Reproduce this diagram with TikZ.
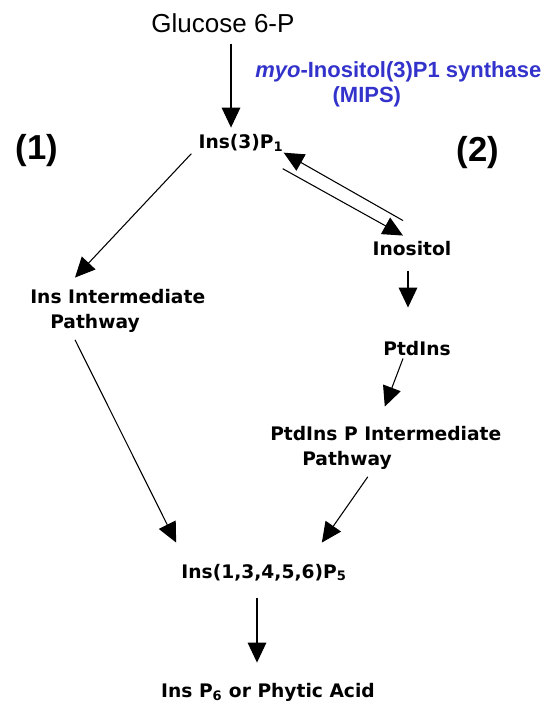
\documentclass[tikz,border=0pt]{standalone}
\usepackage{fontspec}
\setmainfont{Liberation Sans}
\newfontfamily\pathfont{DejaVu Sans}
\usetikzlibrary{arrows.meta}
\definecolor{mipsblue}{RGB}{51,51,204}

\begin{document}
\begin{tikzpicture}[
    x=0.75pt, y=-0.75pt,
    metab/.style={
        inner sep=0pt,
        anchor=base,
        font=\pathfont\bfseries\fontsize{14}{18.75}\selectfont
    },
    route/.style={metab, anchor=base west, align=left},
    pathno/.style={
        inner sep=0pt,
        anchor=base,
        font=\bfseries\fontsize{26}{30}\selectfont
    },
    arrow/.style={-{Triangle[length=15pt,width=14pt]}, line width=0.8pt, draw=black}
]
\useasboundingbox (0,0) rectangle (555,702);
\node[inner sep=0pt, anchor=base, font=\fontsize{19.5}{23}\selectfont] (glc) at (223,33) {Glucose 6-P};
\node[inner sep=0pt, anchor=base west, align=left, text=mipsblue,
      font=\bfseries\fontsize{16.5}{18.75}\selectfont] (mips) at (255,103)
      {\textit{myo}-Inositol(3)P1 synthase\\\hspace*{58pt}(MIPS)};
\node[pathno] (one) at (37,160) {(1)};
\node[pathno] (two) at (478,162) {(2)};
\node[metab] (ins3p) at (241,149) {Ins(3)P\textsubscript{1}};
\node[metab] (inositol) at (412,255) {Inositol};
\node[route] (insint) at (30,328) {Ins Intermediate\\\hspace*{15pt}Pathway};
\node[metab] (ptdins) at (417,355) {PtdIns};
\node[route] (ptdinsp) at (270,465) {PtdIns P Intermediate\\\hspace*{24pt}Pathway};
\node[metab] (ins5) at (264,578) {Ins(1,3,4,5,6)P\textsubscript{5}};
\node[metab] (ins6) at (268,697) {Ins P\textsubscript{6} or Phytic Acid};
\draw[arrow] ([shift={(8,10)}]glc.south) -- ([shift={(-10,-7)}]ins3p.north);
\draw[arrow] ([shift={(-7,1.5)}]ins3p.south west) -- ([shift={(45,-11)}]insint.north west);
\draw[arrow] ([shift={(45,7.5)}]insint.south west) -- ([shift={(-5,-21)}]ins5.north west);
\draw[arrow] ([shift={(-9,-20)}]inositol.north) -- ([shift={(0,0.5)}]ins3p.south east);
\draw[arrow] ([shift={(-1,16.5)}]ins3p.south east) -- ([shift={(-9,-5)}]inositol.north);
\draw[arrow] ([shift={(-4,15)}]inositol.south) -- ([shift={(-9,-33)}]ptdins.north);
\draw[arrow] ([shift={(-14,3)}]ptdins.south) -- ([shift={(-1,-19)}]ptdinsp.north);
\draw[arrow] ([shift={(-18,7.5)}]ptdinsp.south) -- ([shift={(-25,-21)}]ins5.north east);
\draw[arrow] ([shift={(-7,16.5)}]ins5.south) -- ([shift={(-11,-20)}]ins6.north);
\end{tikzpicture}
\end{document}
